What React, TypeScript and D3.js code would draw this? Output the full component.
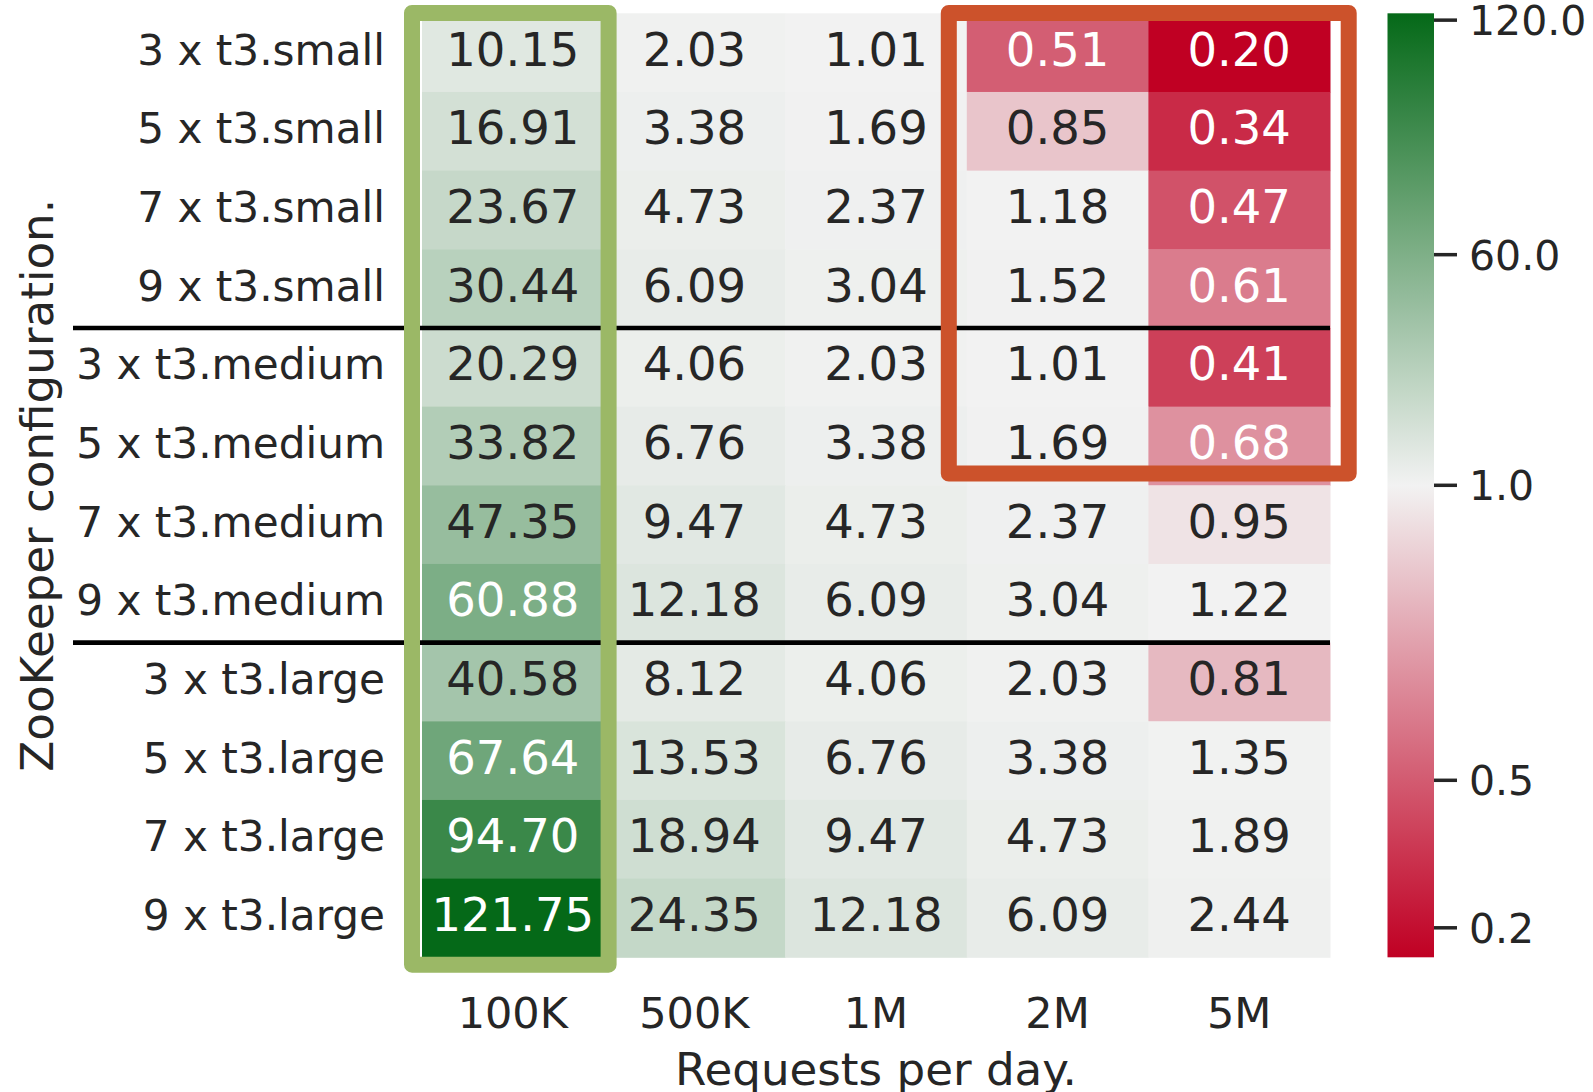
import React from "react";
import * as d3 from "d3";

const rowLabels = [
  "3 x t3.small", "5 x t3.small", "7 x t3.small", "9 x t3.small",
  "3 x t3.medium", "5 x t3.medium", "7 x t3.medium", "9 x t3.medium",
  "3 x t3.large", "5 x t3.large", "7 x t3.large", "9 x t3.large",
];
const colLabels = ["100K", "500K", "1M", "2M", "5M"];
const values: number[][] = [
  [10.15, 2.03, 1.01, 0.51, 0.2],
  [16.91, 3.38, 1.69, 0.85, 0.34],
  [23.67, 4.73, 2.37, 1.18, 0.47],
  [30.44, 6.09, 3.04, 1.52, 0.61],
  [20.29, 4.06, 2.03, 1.01, 0.41],
  [33.82, 6.76, 3.38, 1.69, 0.68],
  [47.35, 9.47, 4.73, 2.37, 0.95],
  [60.88, 12.18, 6.09, 3.04, 1.22],
  [40.58, 8.12, 4.06, 2.03, 0.81],
  [67.64, 13.53, 6.76, 3.38, 1.35],
  [94.7, 18.94, 9.47, 4.73, 1.89],
  [121.75, 24.35, 12.18, 6.09, 2.44],
];
const separatorAfterRows = [3, 7];
const cbTickValues = [0.25, 0.5, 1, 60, 120];
const cbTickLabels = ["0.2", "0.5", "1.0", "60.0", "120.0"];
const xTitle = "Requests per day.";
const yTitle = "ZooKeeper configuration.";
// highlight boxes: [firstCol, lastCol, firstRow, lastRow]
const greenBox = { cols: ["100K", "100K"], rows: [0, 11] };
const orangeBox = { cols: ["2M", "5M"], rows: [0, 5] };

const RED = "#c00023";
const MID = "#f2f2f2";
const GREEN = "#056918";
const FONT = "DejaVu Sans, sans-serif";
const TXT = "#262626";

const W = 1593, H = 1092;
const L = 422, R = 1330, T = 13.3, B = 957.3;

function cmap(t: number) {
  return t < 0.5 ? d3.interpolateRgb(RED, MID)(t * 2) : d3.interpolateRgb(MID, GREEN)((t - 0.5) * 2);
}

function relLum(c: string) {
  const rgb = d3.rgb(c);
  const f = (v: number) => {
    const s = v / 255;
    return s <= 0.03928 ? s / 12.92 : Math.pow((s + 0.055) / 1.055, 2.4);
  };
  return 0.2126 * f(rgb.r) + 0.7152 * f(rgb.g) + 0.0722 * f(rgb.b);
}

export default function App() {
  const flat = values.flat();
  const vmin = d3.min(flat)!;
  const vmax = d3.max(flat)!;
  const x = d3.scaleBand<string>().domain(colLabels).range([L, R]);
  const y = d3.scaleBand<string>().domain(rowLabels).range([T, B]);
  const color = d3.scaleDiverging<string>().domain([vmin, 1, vmax]).interpolator(cmap);
  const cbY = d3.scaleLinear().domain([vmin, 1, vmax]).range([B, (T + B) / 2, T]);

  const cbX0 = 1387.5, cbX1 = 1434;
  const stops = d3.range(0, 1.0001, 0.05);

  const boxRect = (b: { cols: string[]; rows: number[] }, padL: number, padR: number, padT: number, padB: number) => {
    const x0 = x(b.cols[0])! - padL;
    const x1 = x(b.cols[1])! + x.bandwidth() + padR;
    const y0 = y(rowLabels[b.rows[0]])! - padT;
    const y1 = y(rowLabels[b.rows[1]])! + y.bandwidth() + padB;
    return { x: x0, y: y0, width: x1 - x0, height: y1 - y0 };
  };
  const g = boxRect(greenBox, 10, 5, 0.3, 7.4);
  const o = boxRect(orangeBox, 18, 18.7, 0.3, -11.8);

  return (
    <svg width={W} height={H} style={{ position: "absolute", left: 0, top: 0, background: "#fff" }}>
      <defs>
        <linearGradient id="cb" x1="0" y1="1" x2="0" y2="0">
          {stops.map((t) => (
            <stop key={t} offset={t} stopColor={cmap(t)} />
          ))}
        </linearGradient>
      </defs>
      {values.map((row, i) =>
        row.map((v, j) => {
          const c = color(v);
          return (
            <rect key={`c${i}-${j}`} x={x(colLabels[j])} y={y(rowLabels[i])} width={x.bandwidth() + 0.5} height={y.bandwidth() + 0.5} fill={c} />
          );
        })
      )}
      {values.map((row, i) =>
        row.map((v, j) => {
          const c = color(v);
          return (
            <text key={`t${i}-${j}`} x={x(colLabels[j])! + x.bandwidth() / 2} y={y(rowLabels[i])! + y.bandwidth() / 2 + 13}
              textAnchor="middle" fontFamily={FONT} fontSize={46.5} fill={relLum(c) > 0.408 ? TXT : "#ffffff"}>
              {v.toFixed(2)}
            </text>
          );
        })
      )}
      {separatorAfterRows.map((r) => {
        const yy = y(rowLabels[r])! + y.bandwidth();
        return <line key={`s${r}`} x1={73} x2={R} y1={yy} y2={yy} stroke="#000" strokeWidth={4.6} />;
      })}
      <rect {...g} fill="none" stroke="#9bb866" strokeWidth={16} strokeLinejoin="round" />
      <rect {...o} fill="none" stroke="#cc522b" strokeWidth={16} strokeLinejoin="round" />
      {rowLabels.map((r) => (
        <text key={r} x={385} y={y(r)! + y.bandwidth() / 2 + 12} textAnchor="end" fontFamily={FONT} fontSize={42.2} fill={TXT}>
          {r}
        </text>
      ))}
      {colLabels.map((c) => (
        <text key={c} x={x(c)! + x.bandwidth() / 2} y={1028} textAnchor="middle" fontFamily={FONT} fontSize={43} fill={TXT}>
          {c}
        </text>
      ))}
      <text x={(L + R) / 2} y={1085} textAnchor="middle" fontFamily={FONT} fontSize={45.2} fill={TXT}>
        {xTitle}
      </text>
      <text transform={`translate(53,${(T + B) / 2}) rotate(-90)`} textAnchor="middle" fontFamily={FONT} fontSize={45.2} fill={TXT}>
        {yTitle}
      </text>
      <rect x={cbX0} y={T} width={cbX1 - cbX0} height={B - T} fill="url(#cb)" />
      {cbTickValues.map((v, i) => (
        <g key={`cb${v}`}>
          <line x1={cbX1} x2={cbX1 + 23} y1={cbY(v)} y2={cbY(v)} stroke={TXT} strokeWidth={3.5} />
          <text x={1469} y={cbY(v) + 15} fontFamily={FONT} fontSize={41} fill={TXT}>
            {cbTickLabels[i]}
          </text>
        </g>
      ))}
    </svg>
  );
}
